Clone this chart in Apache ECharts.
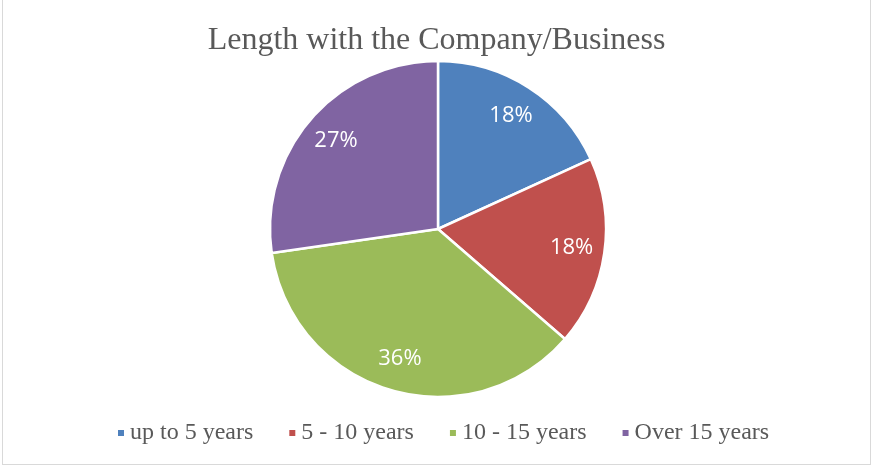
<!DOCTYPE html>
<html><head><meta charset="utf-8">
<script src="https://cdn.jsdelivr.net/npm/echarts@6/dist/echarts.min.js"></script>
<style>
html,body{margin:0;padding:0;background:#fff;}
#frame{position:absolute;left:2px;top:-2px;width:869px;height:467px;border:1px solid #d9d9d9;box-sizing:border-box;}
#c{position:absolute;left:0;top:0;width:873px;height:467px;}
</style></head>
<body><div id="frame"></div><div id="c"></div>
<script>
const title = 'Length with the Company/Business';
const categories = ['up to 5 years', '5 - 10 years', '10 - 15 years', 'Over 15 years'];
const values = [2, 2, 4, 3];
const colors = ['#4F81BD', '#C0504D', '#9BBB59', '#8064A2'];

const chart = echarts.init(document.getElementById('c'));
const data = categories.map((n, i) => ({name: n, value: values[i], itemStyle: {color: colors[i]}}));
chart.setOption({
  animation: false,
  title: {text: title, left: 'center', top: 20,
    textStyle: {fontFamily: 'Liberation Serif', fontSize: 32, fontWeight: 'normal', color: '#595959'}},
  legend: {bottom: 17, left: 111, itemWidth: 8, itemHeight: 8, itemGap: 34, icon: 'rect',
    textStyle: {fontFamily: 'Liberation Serif', fontSize: 24, color: '#595959'},
    data: categories},
  series: [
    {type: 'pie', radius: [0, 168], center: [438, 229], startAngle: 90, clockwise: true,
      itemStyle: {borderColor: '#fff', borderWidth: 2.5}, label: {show: false}, labelLine: {show: false},
      data: data},
    {type: 'pie', radius: [96, 168], center: [438, 229], startAngle: 90, clockwise: true, silent: true,
      itemStyle: {color: 'rgba(0,0,0,0)', borderWidth: 0},
      label: {show: true, position: 'inside', formatter: p => Math.round(p.percent) + '%',
        fontFamily: 'Open Sans', fontSize: 22, color: '#fff'},
      labelLine: {show: false},
      data: categories.map((n, i) => ({name: n, value: values[i]})), legendHoverLink: false}
  ]
});
</script></body></html>
